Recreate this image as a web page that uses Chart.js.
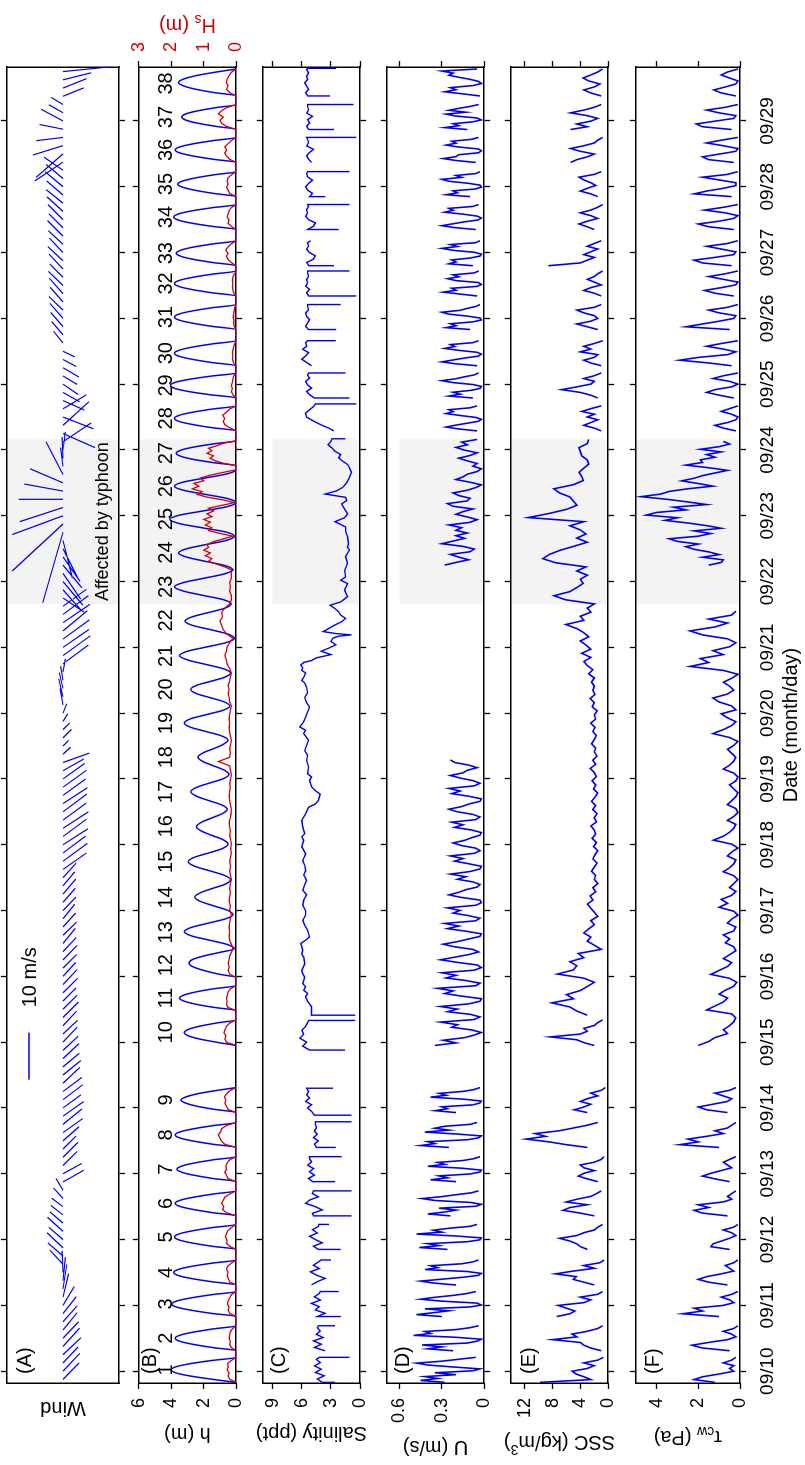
<!DOCTYPE html>
<html>
<head>
<meta charset="utf-8">
<title>Tidal flat observations 09/10 - 09/29</title>
<script src="https://cdn.jsdelivr.net/npm/chart.js@4.4.1/dist/chart.umd.min.js"></script>
<style>
  html, body { margin: 0; padding: 0; background: #fff; overflow: hidden; }
  /* figure is laid out landscape and turned a quarter turn to the left */
  #figure {
    position: absolute; left: 0; top: 0;
    width: 1465px; height: 805px;
    transform-origin: 0 0;
    transform: translate(0, 1465px) rotate(-90deg);
  }
  #figure canvas { position: absolute; left: 0; }
</style>
</head>
<body>
<div id="figure">
  <canvas id="cWind" width="1465" height="136" style="top:-5px"></canvas>
  <canvas id="cDepth" width="1465" height="137" style="top:119px"></canvas>
  <canvas id="cSal" width="1465" height="137" style="top:243px"></canvas>
  <canvas id="cSpeed" width="1465" height="137" style="top:367px"></canvas>
  <canvas id="cSsc" width="1465" height="137" style="top:491px"></canvas>
  <canvas id="cStress" width="1465" height="189" style="top:616px"></canvas>
</div>
<script>
// time is in days after 09/10 00:00
const T_MIN = -0.18, T_MAX = 19.82;
const dayTicks = [0, 1, 2, 3, 4, 5, 6, 7, 8, 9, 10, 11, 12, 13, 14, 15, 16, 17, 18, 19];
const dateLabels = ["09/10", "09/11", "09/12", "09/13", "09/14", "09/15", "09/16", "09/17", "09/18", "09/19",
  "09/20", "09/21", "09/22", "09/23", "09/24", "09/25", "09/26", "09/27", "09/28", "09/29"];
const typhoonSpan = [11.66, 14.16];

// tides 1..38: wet window and time of high water
const tideStart = [-0.17, 0.31, 0.83, 1.31, 1.85, 2.36, 2.88, 3.40, 3.93, 4.95, 5.48, 5.98, 6.42, 6.94, 7.47, 8.01, 8.54, 9.07, 9.59,
  10.11, 10.61, 11.14, 11.66, 12.18, 12.69, 13.20, 13.76, 14.29, 14.79, 15.28, 15.83, 16.34, 16.80, 17.35, 17.85, 18.37, 18.87, 19.38];
const tideEnd = [0.21, 0.69, 1.21, 1.69, 2.23, 2.74, 3.26, 3.78, 4.31, 5.34, 5.86, 6.42, 6.94, 7.47, 8.01, 8.54, 9.07, 9.59, 10.11,
  10.61, 11.14, 11.66, 12.18, 12.69, 13.20, 13.70, 14.14, 14.67, 15.17, 15.66, 16.21, 16.72, 17.18, 17.73, 18.23, 18.75, 19.25, 19.79];
const tidePeak = [0.02, 0.50, 1.02, 1.50, 2.04, 2.55, 3.07, 3.59, 4.12, 5.15, 5.67, 6.17, 6.67, 7.20, 7.74, 8.28, 8.80, 9.33, 9.85,
  10.36, 10.87, 11.41, 11.92, 12.44, 12.95, 13.45, 13.95, 14.48, 14.98, 15.47, 16.02, 16.53, 16.99, 17.54, 18.04, 18.56, 19.06, 19.57];

// water depth h (m), evenly spaced over each tide window
const depthByTide = [
  [0, 1.5, 2.8, 3.7, 4.0, 3.7, 2.8, 1.5, 0],
  [0, 1.4, 2.6, 3.45, 3.75, 3.45, 2.6, 1.4, 0],
  [0, 1.5, 2.75, 3.65, 3.95, 3.65, 2.75, 1.5, 0],
  [0, 1.45, 2.7, 3.55, 3.85, 3.55, 2.7, 1.45, 0],
  [0, 1.45, 2.65, 3.5, 3.8, 3.5, 2.65, 1.45, 0],
  [0, 1.4, 2.6, 3.45, 3.75, 3.45, 2.6, 1.4, 0],
  [0, 1.4, 2.55, 3.35, 3.65, 3.35, 2.55, 1.4, 0],
  [0, 1.4, 2.6, 3.45, 3.75, 3.45, 2.6, 1.4, 0],
  [0, 1.3, 2.4, 3.1, 3.4, 3.1, 2.4, 1.3, 0],
  [0, 1.2, 2.25, 2.95, 3.2, 2.95, 2.25, 1.2, 0],
  [0, 1.35, 2.45, 3.2, 3.5, 3.2, 2.45, 1.35, 0],
  [0, 1.1, 2.0, 2.65, 2.9, 2.7, 2.0, 1.0, 0.1],
  [0.1, 0.55, 1.65, 2.75, 3.2, 2.75, 1.7, 0.65, 0.2],
  [0.2, 0.55, 1.4, 2.2, 2.55, 2.2, 1.45, 0.65, 0.35],
  [0.35, 0.75, 1.65, 2.55, 2.95, 2.6, 1.7, 0.85, 0.5],
  [0.5, 0.8, 1.5, 2.15, 2.45, 2.15, 1.5, 0.85, 0.55],
  [0.55, 0.9, 1.7, 2.45, 2.8, 2.45, 1.65, 0.8, 0.45],
  [0.45, 0.75, 1.4, 2.05, 2.35, 2.05, 1.4, 0.8, 0.5],
  [0.5, 0.9, 1.85, 2.8, 3.2, 2.8, 1.8, 0.8, 0.4],
  [0.4, 0.75, 1.6, 2.45, 2.8, 2.45, 1.55, 0.7, 0.35],
  [0.35, 0.8, 1.9, 3.0, 3.5, 3.0, 1.8, 0.6, 0.1],
  [0.1, 0.55, 1.6, 2.7, 3.15, 2.7, 1.7, 0.7, 0.3],
  [0.3, 0.8, 2.05, 3.25, 3.8, 3.25, 2.0, 0.75, 0.2],
  [0.2, 0.7, 1.9, 3.05, 3.55, 3.05, 1.85, 0.6, 0.1],
  [0.1, 0.65, 2.1, 3.5, 4.1, 3.5, 2.05, 0.6, 0],
  [0, 0.55, 1.9, 3.25, 3.8, 3.25, 1.9, 0.55, 0],
  [0, 1.4, 2.6, 3.4, 3.7, 3.4, 2.6, 1.4, 0],
  [0, 1.45, 2.65, 3.5, 3.8, 3.5, 2.65, 1.45, 0],
  [0, 1.55, 2.85, 3.75, 4.05, 3.75, 2.85, 1.55, 0],
  [0, 1.45, 2.65, 3.5, 3.8, 3.5, 2.65, 1.45, 0],
  [0, 1.45, 2.65, 3.5, 3.8, 3.5, 2.65, 1.45, 0],
  [0, 1.45, 2.65, 3.5, 3.8, 3.5, 2.65, 1.45, 0],
  [0, 1.4, 2.6, 3.4, 3.7, 3.4, 2.6, 1.4, 0],
  [0, 1.45, 2.7, 3.55, 3.85, 3.55, 2.7, 1.45, 0],
  [0, 1.35, 2.5, 3.3, 3.6, 3.3, 2.5, 1.35, 0],
  [0, 1.4, 2.6, 3.45, 3.75, 3.45, 2.6, 1.4, 0],
  [0, 1.25, 2.35, 3.1, 3.35, 3.1, 2.35, 1.25, 0],
  [0, 1.35, 2.5, 3.25, 3.55, 3.25, 2.5, 1.35, 0]
];

// significant wave height Hs (m)
const waveByTide = [
  [0, 0.2, 0.25, 0.22, 0.28, 0.24, 0.27, 0.15, 0],
  [0, 0.15, 0.2, 0.18, 0.22, 0.2, 0.18, 0.12, 0],
  [0, 0.2, 0.25, 0.22, 0.27, 0.25, 0.2, 0.15, 0],
  [0, 0.2, 0.24, 0.28, 0.25, 0.3, 0.26, 0.15, 0],
  [0, 0.2, 0.3, 0.28, 0.33, 0.3, 0.26, 0.15, 0],
  [0, 0.3, 0.42, 0.38, 0.45, 0.4, 0.35, 0.2, 0],
  [0, 0.25, 0.3, 0.35, 0.3, 0.32, 0.28, 0.2, 0],
  [0, 0.35, 0.45, 0.5, 0.55, 0.48, 0.45, 0.3, 0],
  [0, 0.25, 0.3, 0.35, 0.32, 0.36, 0.3, 0.2, 0],
  [0, 0.3, 0.35, 0.32, 0.38, 0.34, 0.3, 0.2, 0],
  [0, 0.25, 0.3, 0.28, 0.3, 0.27, 0.25, 0.18, 0],
  [0, 0.2, 0.25, 0.22, 0.25, 0.22, 0.2, 0.15, 0.1],
  [0.1, 0.15, 0.2, 0.22, 0.2, 0.22, 0.2, 0.18, 0.15],
  [0.15, 0.2, 0.18, 0.22, 0.2, 0.18, 0.2, 0.18, 0.15],
  [0.15, 0.18, 0.2, 0.17, 0.2, 0.18, 0.15, 0.17, 0.15],
  [0.15, 0.17, 0.2, 0.18, 0.2, 0.22, 0.18, 0.16, 0.15],
  [0.15, 0.18, 0.2, 0.22, 0.2, 0.18, 0.2, 0.17, 0.15],
  [0.15, 0.18, 0.2, 0.55, 0.2, 0.18, 0.2, 0.17, 0.15],
  [0.15, 0.18, 0.2, 0.22, 0.2, 0.22, 0.2, 0.18, 0.15],
  [0.15, 0.2, 0.22, 0.25, 0.22, 0.25, 0.2, 0.18, 0.15],
  [0.15, 0.2, 0.28, 0.3, 0.35, 0.3, 0.28, 0.2, 0.1],
  [0.1, 0.3, 0.4, 0.45, 0.5, 0.42, 0.45, 0.35, 0.2],
  [0.2, 0.15, 0.15, 0.2, 0.18, 0.2, 0.15, 0.15, 0.15],
  [0.15, 0.35, 0.6, 0.85, 0.75, 0.95, 0.8, 1.0, 0.85, 0.9, 0.7, 0.4, 0.1],
  [0.1, 0.5, 0.85, 0.75, 0.95, 0.8, 1.0, 0.75, 0.9, 0.7, 0.85, 0.45, 0.05],
  [0.05, 0.4, 0.9, 1.2, 1.05, 1.35, 1.15, 1.3, 1.0, 1.1, 0.8, 0.4, 0],
  [0, 0.4, 0.65, 0.8, 0.7, 0.9, 0.75, 0.85, 0.6, 0.4, 0],
  [0, 0.2, 0.35, 0.4, 0.35, 0.42, 0.3, 0.2, 0],
  [0, 0.1, 0.15, 0.12, 0.15, 0.12, 0.1, 0.08, 0],
  [0, 0.08, 0.12, 0.1, 0.12, 0.1, 0.08, 0.05, 0],
  [0, 0.06, 0.08, 0.07, 0.09, 0.08, 0.06, 0.05, 0],
  [0, 0.08, 0.1, 0.12, 0.1, 0.12, 0.1, 0.06, 0],
  [0, 0.15, 0.25, 0.3, 0.25, 0.32, 0.25, 0.15, 0],
  [0, 0.15, 0.25, 0.22, 0.28, 0.25, 0.22, 0.15, 0],
  [0, 0.2, 0.25, 0.3, 0.25, 0.28, 0.25, 0.15, 0],
  [0, 0.2, 0.3, 0.35, 0.3, 0.35, 0.25, 0.15, 0],
  [0, 0.3, 0.45, 0.5, 0.4, 0.55, 0.45, 0.3, 0],
  [0, 0.2, 0.3, 0.25, 0.3, 0.28, 0.22, 0.15, 0]
];

// salinity (ppt) as [time, value] runs
const salinityRuns = [
  [[-0.17, 2.6], [-0.17, 3.9], [-0.12, 4.4], [-0.07, 3.7], [-0.02, 4.6], [0.03, 4.0], [0.08, 4.7], [0.13, 4.1], [0.18, 4.5], [0.21, 4.2], [0.21, 1.1]],
  [[0.31, 3.6], [0.36, 4.7], [0.41, 4.0], [0.46, 4.8], [0.51, 3.8], [0.56, 4.5], [0.61, 4.1], [0.66, 4.4], [0.69, 4.3], [0.69, 2.6]],
  [[0.83, 2.0], [0.83, 4.4], [0.88, 3.6], [0.93, 4.6], [0.98, 4.2], [1.03, 5.0], [1.08, 4.1], [1.13, 4.7], [1.18, 4.2], [1.21, 4.1], [1.21, 2.2]],
  [[1.31, 5.0], [1.36, 4.4], [1.41, 3.6], [1.46, 4.5], [1.51, 5.1], [1.56, 4.2], [1.61, 4.8], [1.66, 4.3], [1.69, 4.0], [1.69, 3.0]],
  [[1.85, 2.0], [1.85, 4.3], [1.90, 4.8], [1.95, 3.9], [2.00, 4.6], [2.05, 5.2], [2.10, 4.4], [2.15, 4.9], [2.20, 4.3], [2.23, 4.25], [2.23, 3.2]],
  [[2.36, 0.9], [2.36, 4.8], [2.40, 4.9], [2.45, 3.9], [2.50, 4.6], [2.55, 5.6], [2.60, 5.2], [2.65, 4.3], [2.70, 4.9], [2.74, 4.8], [2.74, 0.9]],
  [[2.88, 2.6], [2.88, 4.9], [2.93, 5.3], [2.98, 4.7], [3.03, 5.2], [3.08, 4.8], [3.13, 5.4], [3.18, 5.0], [3.23, 5.2], [3.26, 5.2], [3.26, 1.9]],
  [[3.40, 2.5], [3.40, 4.5], [3.45, 4.7], [3.50, 4.3], [3.55, 4.8], [3.60, 4.4], [3.65, 4.7], [3.70, 4.5], [3.75, 4.6], [3.79, 4.6], [3.79, 0.9]],
  [[3.89, 0.9], [3.89, 4.7], [3.95, 5.0], [4.00, 5.4], [4.05, 5.0], [4.10, 5.6], [4.15, 5.2], [4.20, 5.5], [4.25, 5.3], [4.30, 5.5], [4.30, 2.8]],
  [[4.88, 1.55], [4.88, 5.2], [4.94, 5.9], [5.00, 5.5], [5.06, 6.2], [5.12, 5.8], [5.18, 6.0], [5.24, 5.6], [5.30, 5.4], [5.33, 5.3], [5.33, 0.5]],
  [[5.41, 0.5], [5.41, 5.0], [5.54, 5.0], [5.62, 5.4], [5.69, 5.6], [5.74, 5.4], [5.79, 5.8], [5.84, 5.6], [5.89, 5.9], [5.99, 5.7], [6.04, 5.9], [6.09, 6.0], [6.19, 5.7],
   [6.29, 5.8], [6.34, 6.0], [6.40, 5.9], [6.50, 6.1], [6.55, 5.6], [6.60, 5.2], [6.70, 5.4], [6.78, 5.7], [6.85, 5.9], [6.93, 5.6], [7.00, 5.6],
   [7.08, 5.9], [7.16, 5.8], [7.24, 5.5], [7.31, 5.9], [7.39, 5.7], [7.46, 5.5], [7.54, 5.8], [7.61, 5.6], [7.69, 5.7], [7.76, 5.9],
   [7.86, 5.6], [7.97, 6.0], [8.07, 5.8], [8.12, 6.0], [8.17, 5.7], [8.27, 5.9], [8.37, 6.0], [8.47, 5.6], [8.57, 5.3], [8.62, 4.6], [8.67, 4.3],
   [8.72, 4.2], [8.77, 4.1], [8.82, 4.6], [8.88, 5.0], [8.98, 5.2], [9.03, 5.0], [9.08, 5.4], [9.18, 5.3], [9.28, 5.5], [9.36, 5.4], [9.43, 5.7],
   [9.51, 5.5], [9.59, 5.3], [9.69, 5.8], [9.74, 5.6], [9.79, 6.2], [9.87, 5.8], [9.94, 5.6], [10.02, 5.4], [10.09, 5.2], [10.16, 5.5], [10.24, 5.7],
   [10.31, 5.4], [10.39, 5.5], [10.46, 5.7], [10.50, 6.0], [10.54, 5.8], [10.61, 5.6], [10.65, 6.0], [10.69, 5.9], [10.73, 6.1], [10.77, 5.8], [10.80, 5.0], [10.84, 4.5], [10.89, 3.0],
   [10.94, 4.0], [10.99, 3.2], [11.04, 2.5], [11.09, 3.0], [11.14, 2.8], [11.17, 2.2], [11.19, 0.9], [11.21, 2.5], [11.24, 3.8], [11.29, 3.2],
   [11.34, 2.6], [11.39, 1.9], [11.44, 1.5], [11.49, 2.0], [11.54, 2.2], [11.59, 2.6], [11.64, 3.1], [11.69, 2.0], [11.77, 1.3], [11.87, 1.6],
   [11.97, 1.3], [12.02, 2.0], [12.07, 1.5], [12.17, 1.6], [12.28, 1.3], [12.38, 1.5], [12.48, 1.1], [12.52, 1.3], [12.58, 1.2], [12.68, 1.3],
   [12.76, 1.5], [12.83, 1.5], [12.91, 2.6], [12.97, 1.6], [13.03, 1.3], [13.10, 1.6], [13.18, 1.9], [13.23, 1.4], [13.28, 1.5], [13.33, 3.6],
   [13.38, 2.4], [13.43, 1.8], [13.50, 1.4], [13.58, 1.1], [13.66, 0.9], [13.73, 1.1], [13.78, 1.3], [13.83, 1.8], [13.88, 2.2], [13.93, 2.0],
   [13.98, 2.6], [14.03, 2.9], [14.08, 3.3], [14.13, 3.0], [14.17, 2.9], [14.17, 1.5]],
  [[14.29, 2.7], [14.33, 3.2], [14.38, 4.0], [14.44, 4.8], [14.50, 5.5], [14.56, 5.6], [14.61, 5.2], [14.66, 4.8], [14.70, 4.6], [14.70, 0.4]],
  [[14.79, 1.1], [14.79, 4.7], [14.84, 5.2], [14.89, 5.5], [14.94, 5.0], [14.99, 5.4], [15.04, 5.6], [15.09, 5.2], [15.14, 5.4], [15.17, 5.3], [15.17, 1.5]],
  [[15.28, 5.0], [15.33, 5.5], [15.38, 6.0], [15.43, 5.6], [15.48, 5.3], [15.53, 5.9], [15.58, 5.5], [15.63, 5.6], [15.66, 5.4], [15.66, 2.5]],
  [[15.83, 2.45], [15.83, 5.3], [15.88, 5.6], [15.93, 5.4], [15.98, 5.2], [16.03, 5.5], [16.08, 5.6], [16.13, 5.3], [16.18, 5.4], [16.21, 5.4], [16.21, 2.0]],
  [[16.34, 0.4], [16.34, 5.3], [16.39, 5.5], [16.44, 5.2], [16.49, 5.6], [16.54, 5.4], [16.59, 5.5], [16.64, 5.3], [16.69, 5.4], [16.72, 5.4], [16.72, 1.1]],
  [[16.80, 2.7], [16.80, 5.3], [16.85, 5.5], [16.90, 4.8], [16.95, 4.6], [17.00, 5.2], [17.05, 5.5], [17.10, 5.3], [17.15, 5.4], [17.18, 5.1]],
  [[17.35, 2.2], [17.35, 5.4], [17.40, 4.8], [17.45, 4.6], [17.50, 5.3], [17.55, 5.6], [17.60, 5.4], [17.65, 5.5], [17.70, 5.3], [17.73, 5.4], [17.73, 1.1]],
  [[17.85, 3.6], [17.85, 5.2], [17.90, 4.9], [17.95, 5.4], [18.00, 5.6], [18.05, 5.3], [18.10, 4.9], [18.15, 5.4], [18.20, 5.5], [18.23, 5.4], [18.23, 1.1]],
  [[18.37, 5.0], [18.42, 5.3], [18.47, 5.5], [18.52, 5.2], [18.57, 4.8], [18.62, 5.5], [18.67, 5.3], [18.72, 5.4], [18.75, 5.5], [18.75, 0.4]],
  [[18.87, 2.7], [18.87, 5.3], [18.92, 5.5], [18.97, 5.2], [19.02, 5.4], [19.07, 4.9], [19.12, 5.5], [19.17, 5.3], [19.22, 5.4], [19.25, 5.4], [19.25, 0.7]],
  [[19.38, 3.1], [19.38, 5.4], [19.43, 5.6], [19.48, 5.3], [19.53, 5.5], [19.58, 5.7], [19.63, 5.4], [19.68, 5.5], [19.73, 5.3], [19.78, 5.5], [19.80, 5.4], [19.80, 2.45]]
];

// depth-averaged velocity U (m/s)
const speedByTide = [
  [0.28, 0.45, 0.33, 0.42, 0.2, 0.35, 0.08, 0.03, 0.22, 0.4, 0.48, 0.3, 0.18, 0.06],
  [0.22, 0.4, 0.3, 0.44, 0.12, 0.05, 0.02, 0.2, 0.5, 0.38, 0.42, 0.2, 0.1, 0.04],
  [0.3, 0.48, 0.36, 0.25, 0.42, 0.1, 0.02, 0.05, 0.3, 0.45, 0.35, 0.22, 0.12, 0.06],
  [0.2, 0.36, 0.45, 0.3, 0.15, 0.04, 0.02, 0.12, 0.42, 0.33, 0.38, 0.16, 0.08, 0.04],
  [0.26, 0.46, 0.32, 0.4, 0.12, 0.03, 0.02, 0.2, 0.48, 0.3, 0.36, 0.25, 0.1, 0.05],
  [0.24, 0.4, 0.28, 0.2, 0.32, 0.06, 0.02, 0.1, 0.35, 0.44, 0.3, 0.2, 0.09, 0.04],
  [0.2, 0.38, 0.26, 0.32, 0.1, 0.03, 0.02, 0.16, 0.4, 0.28, 0.33, 0.15, 0.07, 0.03],
  [0.25, 0.45, 0.35, 0.4, 0.12, 0.04, 0.02, 0.2, 0.42, 0.25, 0.35, 0.28, 0.1, 0.05],
  [0.2, 0.35, 0.26, 0.3, 0.08, 0.03, 0.02, 0.15, 0.38, 0.27, 0.32, 0.15, 0.07, 0.03],
  null, null, null, null, null, null, null, null, null, null, null, null, null, null, null, null, null, null,
  [0.05, 0.18, 0.27, 0.2, 0.12, 0.04, 0.02, 0.06, 0.17, 0.27, 0.22, 0.25, 0.1, 0.05],
  [0.08, 0.25, 0.17, 0.22, 0.09, 0.03, 0.02, 0.08, 0.22, 0.3, 0.2, 0.14, 0.07, 0.04],
  [0.05, 0.2, 0.3, 0.22, 0.14, 0.04, 0.02, 0.05, 0.18, 0.28, 0.21, 0.24, 0.08, 0.04],
  [0.1, 0.27, 0.2, 0.24, 0.08, 0.02, 0.03, 0.12, 0.25, 0.3, 0.17, 0.12, 0.06, 0.03],
  [0.05, 0.17, 0.29, 0.2, 0.23, 0.05, 0.02, 0.04, 0.2, 0.26, 0.18, 0.22, 0.07, 0.04],
  [0.08, 0.25, 0.2, 0.23, 0.1, 0.03, 0.02, 0.07, 0.22, 0.3, 0.19, 0.24, 0.06, 0.03],
  [0.06, 0.21, 0.3, 0.22, 0.14, 0.04, 0.02, 0.05, 0.15, 0.28, 0.22, 0.25, 0.08, 0.04],
  [0.1, 0.27, 0.19, 0.22, 0.06, 0.02, 0.03, 0.12, 0.25, 0.3, 0.16, 0.2, 0.06, 0.03],
  [0.06, 0.2, 0.29, 0.2, 0.18, 0.04, 0.02, 0.04, 0.18, 0.27, 0.2, 0.23, 0.09, 0.04],
  [0.12, 0.28, 0.18, 0.22, 0.08, 0.02, 0.05, 0.2, 0.27, 0.13, 0.25, 0.18, 0.1, 0.04],
  [0.03, 0.15, 0.28, 0.2, 0.24, 0.08, 0.02, 0.04, 0.1, 0.18, 0.25, 0.22, 0.3, 0.05]
];
const speedRuns = [
  [4.95, 9.29, [0.35, 0.2, 0.29, 0.14, 0.07, 0.02, 0.09, 0.23, 0.19, 0.31, 0.07, 0.03,
    0.1, 0.26, 0.19, 0.31, 0.11, 0.03, 0.02, 0.16, 0.28, 0.22, 0.33, 0.06,
    0.03, 0.13, 0.27, 0.2, 0.3, 0.07, 0.02, 0.05, 0.19, 0.31, 0.21, 0.11, 0.04,
    0.08, 0.21, 0.29, 0.19, 0.11, 0.03, 0.02, 0.13, 0.26, 0.18, 0.28, 0.06,
    0.03, 0.11, 0.22, 0.17, 0.26, 0.06, 0.02, 0.03, 0.16, 0.25, 0.18, 0.13, 0.05, 0.03,
    0.08, 0.19, 0.13, 0.24, 0.1, 0.03, 0.02, 0.11, 0.21, 0.15, 0.24, 0.07, 0.03,
    0.06, 0.16, 0.22, 0.14, 0.09, 0.03, 0.02, 0.09, 0.21, 0.15, 0.23, 0.06, 0.03,
    0.08, 0.19, 0.25, 0.16, 0.11, 0.03, 0.02, 0.11, 0.23, 0.17, 0.25, 0.07, 0.03,
    0.08, 0.17, 0.24, 0.15, 0.12, 0.05, 0.11, 0.21, 0.24]],
  [12.25, 14.16, [0.28, 0.2, 0.11, 0.18, 0.24, 0.1, 0.07, 0.15, 0.3, 0.22, 0.14, 0.2, 0.12, 0.2, 0.16, 0.25,
    0.1, 0.05, 0.12, 0.2, 0.15, 0.08, 0.22, 0.26, 0.12, 0.1, 0.18, 0.22, 0.12, 0.06, 0.02, 0.1,
    0.2, 0.15, 0.12, 0.05, 0.02, 0.08, 0.05, 0.12, 0.18, 0.1, 0.05, 0.14, 0.2, 0.12, 0.16, 0.05]]
];

// suspended sediment concentration (kg/m3)
const sscByTide = [
  [9.8, 2.5, 3.5, 4.6, 5.2, 3.0, 2.0, 3.5, 1.5, 0.7],
  [1.0, 2.5, 3.5, 4.0, 8.0, 4.5, 5.2, 3.0, 1.5, 0.8],
  [7.4, 5.5, 4.8, 6.0, 7.2, 3.5, 2.5, 4.0, 1.5, 0.8],
  [2.0, 3.5, 5.0, 4.6, 7.6, 5.0, 2.0, 3.5, 1.2, 0.6],
  [3.0, 4.0, 4.5, 5.5, 7.0, 4.5, 3.5, 2.0, 1.5, 0.8],
  [2.0, 4.0, 6.5, 5.5, 3.0, 6.0, 4.5, 2.5, 1.7, 1.0],
  [1.5, 3.0, 4.3, 3.5, 2.0, 3.5, 4.0, 2.0, 1.0, 0.6],
  [3.0, 6.0, 8.5, 11.8, 9.0, 10.5, 7.0, 5.0, 3.0, 1.5],
  [3.0, 4.9, 3.5, 2.5, 4.0, 3.0, 1.5, 2.5, 1.0, 0.4],
  [2.0, 3.5, 4.5, 8.3, 4.0, 3.0, 3.5, 2.0, 1.5, 0.8],
  null, null, null, null, null, null, null, null, null, null, null, null, null, null, null, null, null,
  [1.0, 2.0, 3.5, 2.5, 1.5, 3.0, 2.0, 3.8, 2.5, 1.0],
  [1.5, 2.5, 4.0, 6.7, 4.5, 2.5, 2.0, 3.5, 2.0, 1.0],
  [1.0, 2.5, 3.5, 2.0, 1.5, 4.0, 2.5, 3.5, 2.0, 0.8],
  [1.5, 3.0, 4.5, 2.5, 1.5, 2.0, 3.5, 4.5, 2.0, 1.0],
  [1.0, 2.0, 3.5, 2.5, 1.0, 2.0, 3.0, 2.0, 1.5, 0.8],
  [8.6, 4.0, 3.0, 2.0, 3.5, 2.5, 1.5, 3.0, 2.0, 1.0],
  [2.0, 3.0, 4.2, 3.0, 1.5, 2.5, 4.0, 2.5, 1.5, 0.8],
  [1.5, 2.5, 4.0, 3.0, 1.8, 2.5, 3.5, 4.2, 2.0, 1.0],
  [5.4, 4.5, 3.0, 2.0, 4.0, 5.4, 3.5, 2.0, 1.5, 0.8],
  [5.4, 3.0, 4.5, 2.5, 1.5, 3.0, 5.4, 3.5, 2.0, 1.0],
  [1.0, 2.5, 3.5, 2.0, 1.2, 2.8, 3.6, 2.5, 1.5, 0.8]
];
const sscRuns = [
  [5.41, 14.16, [3.0, 4.5, 5.5, 8.1, 5.0, 6.0, 4.0, 3.0, 2.0,
    3.5, 7.3, 5.0, 4.5, 5.5, 3.5, 4.3, 1.0,
    2.0, 3.0, 2.5, 3.5, 2.8, 2.0, 2.5, 1.5,
    2.0, 2.5, 3.0, 2.2, 2.6, 1.8, 2.2, 1.5,
    2.0, 1.8, 2.4, 2.0, 1.6, 2.2, 1.9, 1.5,
    2.1, 1.7, 2.3, 1.8, 2.0, 2.5, 1.7, 2.0,
    1.6, 2.2, 1.8, 2.4, 1.9, 1.5, 2.1, 1.8,
    2.3, 1.7, 2.0, 2.6, 1.8, 2.2, 1.6, 2.0,
    1.8, 2.4, 2.0, 1.7, 2.2, 1.9, 2.5, 1.8,
    2.0, 1.6, 2.3, 2.0, 2.6, 1.9, 2.2, 2.0,
    2.4, 2.0, 2.8, 2.2, 3.0, 3.5, 2.5, 3.8,
    2.5, 3.2, 4.0, 2.8, 3.5, 4.5, 6.1, 3.5,
    4.0, 2.5, 3.0, 2.0, 6.1, 7.8, 5.5, 4.5,
    3.6, 4.0, 3.0, 4.5, 3.2, 7.5, 9.4, 8.5,
    7.0, 5.0, 3.0, 4.5, 3.2, 4.0, 5.5, 3.5,
    11.5, 8.5, 6.0, 4.5, 5.0, 5.5, 7.0, 7.8,
    5.0, 3.6, 3.8, 4.2, 3.5, 2.8, 3.0, 3.8,
    4.0, 4.2, 3.0, 2.8]]
];

// bed shear stress tau_cw (Pa)
const stressByTide = [
  [1.2, 2.2, 1.8, 1.0, 0.3, 0.5, 0.3, 0.8, 0.4, 0.2],
  [0.5, 1.8, 2.3, 1.5, 0.6, 0.2, 0.4, 0.8, 0.3, 0.1],
  [1.0, 2.75, 1.8, 2.2, 0.8, 0.3, 0.5, 0.9, 0.4, 0.1],
  [0.6, 1.5, 2.0, 1.6, 0.9, 0.3, 0.5, 0.7, 0.3, 0.1],
  [0.5, 1.4, 1.3, 0.9, 0.5, 0.2, 0.4, 0.8, 0.3, 0.1],
  [0.6, 1.8, 2.2, 1.5, 2.0, 0.8, 0.4, 0.6, 0.4, 0.2],
  [0.5, 1.2, 1.8, 1.4, 0.9, 0.4, 0.6, 0.8, 0.5, 0.2],
  [1.0, 2.9, 2.0, 2.5, 1.6, 0.8, 1.2, 0.6, 0.4, 0.2],
  [0.6, 1.6, 2.0, 1.3, 0.6, 0.4, 0.8, 1.2, 0.5, 0.2],
  null, null, null, null, null, null, null, null, null, null, null, null, null, null, null, null, null, null,
  [0.2, 0.8, 1.2, 0.6, 0.2, 0.1, 0.4, 0.9, 0.5, 0.1],
  [0.3, 1.0, 1.6, 1.2, 0.4, 0.1, 0.5, 1.3, 0.8, 0.1],
  [0.4, 1.5, 2.9, 2.0, 0.6, 0.2, 0.8, 1.6, 0.9, 0.1],
  [0.5, 2.6, 1.8, 1.0, 0.3, 0.2, 1.0, 1.5, 0.6, 0.1],
  [0.3, 1.2, 1.7, 0.9, 0.2, 0.1, 0.8, 1.5, 0.7, 0.1],
  [0.4, 1.8, 2.2, 1.2, 0.3, 0.2, 0.9, 1.6, 0.6, 0.1],
  [0.3, 1.5, 2.0, 1.0, 0.3, 0.1, 0.7, 1.7, 0.8, 0.1],
  [0.4, 2.2, 1.6, 0.8, 0.2, 0.2, 1.0, 1.8, 0.6, 0.1],
  [0.3, 1.5, 1.8, 1.0, 0.2, 0.1, 0.8, 1.6, 0.9, 0.1],
  [0.4, 1.8, 2.1, 1.2, 0.3, 0.2, 1.0, 1.6, 0.7, 0.1],
  [0.2, 0.9, 1.26, 0.7, 0.2, 0.1, 0.5, 0.9, 0.6, 0.1]
];
const stressRuns = [
  [4.95, 11.55, [2.0, 1.5, 1.2, 0.6, 0.8, 0.5, 0.3, 0.2,
    0.4, 1.6, 1.2, 0.8, 0.6, 1.0, 0.7, 0.3, 0.15,
    0.5, 1.4, 1.0, 0.6, 0.4, 0.8, 0.5, 0.2,
    0.3, 0.7, 0.5, 0.8, 0.3, 0.2, 0.6, 0.4, 0.1,
    0.3, 1.0, 0.6, 0.9, 0.4, 0.2, 0.5, 0.3, 0.1,
    0.3, 0.8, 0.5, 0.3, 0.2, 0.6, 0.4, 0.1,
    0.4, 1.27, 0.8, 0.5, 0.3, 0.2, 0.6, 0.3, 0.1,
    0.2, 0.6, 0.4, 0.2, 0.1, 0.3, 0.5, 0.2, 0.1,
    0.3, 0.8, 0.5, 0.3, 0.2, 0.4, 0.6, 0.3, 0.1,
    0.5, 1.3, 0.8, 0.4, 0.2, 0.6, 0.9, 0.2,
    0.4, 1.0, 1.3, 0.6, 0.3, 0.5, 0.8, 0.4, 0.1,
    0.8, 2.4, 1.5, 1.9, 0.8, 1.3, 0.5, 0.2,
    0.6, 1.8, 2.4, 1.2, 0.6, 1.5, 0.4, 0.2]],
  [12.25, 14.13, [1.5, 0.9, 0.8, 1.8, 1.0, 1.5, 2.2, 2.6, 2.0, 3.0, 3.4, 2.0, 1.4, 2.2, 0.9, 1.6,
    2.5, 3.6, 3.0, 4.5, 4.0, 2.6, 3.2, 1.6, 2.5, 3.5, 4.75, 3.8, 3.4, 2.5, 1.3, 2.0,
    2.8, 2.2, 1.8, 1.2, 0.6, 1.5, 2.6, 1.8, 1.9, 1.2, 1.6, 0.9, 1.9, 1.0, 0.5, 0.8]]
];

// wind every 3 h from 09/09 21:00, eastward u and northward v (m/s)
const WIND_T0 = -0.125, WIND_STEP = 0.125;
const windU = [3.5, 3.8, 3.4, 3.6, 3.9, 3.5, 3.7, 3.4, 3.6, 4.0,
  5.0, 5.2, 5.0, 4.6, 3.0, 2.8, 3.2, 2.6, 3.0, 2.4,
  2.0, 1.8, 2.2, 2.5, 2.5, 2.2, 3.0, 3.2, 2.8, 3.0,
  3.0, 3.3, 3.1, 2.8, 3.2, 3.0, 3.4, 3.1, 2.9, 3.2,
  3.0, 3.2, 2.9, 3.1, 3.3, 3.0, 2.8, 3.1, 3.2, 3.0, 2.9, 3.1, 3.0, 3.2, 2.8, 3.0, 3.1, 2.9, 3.0, 3.2, 3.0, 3.1,
  3.5, 3.8, 3.6, 3.4, 3.7, 3.5, 3.6, 3.8, 3.4, 3.5, 3.6, 3.3,
  2.5, 2.0, 1.5, 1.2, 1.8, 1.4, 1.6, 2.0,
  3.5, 3.8, 3.4, 3.0, 2.8,
  4.0, 4.2, 3.8, 4.1, 4.3, 3.9, 4.0, 3.6,
  -3.0, -4.5, -5.0, -5.5, -4.8, -5.2, -6.0, -8.0,
  -15.0, -10.0, -4.0, -3.0, 0, 1.5, 3.0, 7.0,
  4.0, 4.5, 3.8,
  4.0, -3.0, 5.0, -2.5, 3.0, -2.0,
  -2.0, -2.2, -1.8, -2.0, -1.5, -1.2,
  2.5, 2.8, 3.0, 3.2, 2.9, 3.1, 3.3, 3.0, 2.8, 3.2, 3.0, 3.1, 2.9, 3.3, 3.0, 3.2, 3.1, 2.9, 3.0, 3.2, 3.0, 2.8,
  -4.0, -5.0, -2.0, -0.7, 1.0, 2.5, 1.7, 1.5, 1.8, 2.0, 1.5, 1.0];
const windV = [-3.4, -3.6, -3.2, -3.8, -3.5, -3.3, -3.0, -3.0, -2.8, -2.4,
  -1.2, -0.8, -0.5, 0.2, 2.8, 3.2, 3.4, 3.0, 3.3, 2.8,
  2.6, 2.4, 2.0, 1.5, -4.4, -4.0, -3.0, -3.2, -2.8, -3.4,
  -4.2, -4.0, -4.4, -3.8, -4.2, -4.0, -3.6, -3.8, -3.5, -3.4,
  -3.2, -3.0, -3.1, -2.9, -3.3, -3.0, -2.8, -3.1, -3.0, -2.7, -2.9, -3.0, -2.8, -2.6, -2.9, -2.7, -2.5, -2.8, -2.6, -2.7, -2.5, -2.8,
  -5.0, -5.2, -4.8, -5.3, -5.0, -5.4, -4.9, -5.1, -5.2, -4.8, -5.0, -4.6,
  -4.4, -5.6, -1.6, -1.2, -1.8, -1.4, -1.0, -0.8,
  0.6, 0.9, 0.8, 0.5, -0.5,
  -5.4, -5.8, -5.5, -5.6, -5.2, -5.7, -5.4, -5.0,
  -4.5, -4.0, -4.2, -3.8, -4.0, -3.6, -3.0, -2.0,
  4.3, 10.8, 10.8, 9.2, 9.4, 8.2, 7.0, 3.6,
  0.5, 0.2, -0.5,
  -6.0, -6.8, -5.5, -6.5, -5.0, -4.5,
  -3.5, -3.2, -3.0, -3.4, -2.8, -2.5,
  2.0, 2.4, 2.6, 2.8, 3.0, 2.7, 2.9, 3.1, 2.8, 3.0, 3.2, 2.9, 3.1, 3.3, 3.0, 3.2, 3.4, 3.6, 3.5, 3.8, 3.6, 4.0,
  6.0, 5.7, 6.4, 5.7, 5.0, 4.7, 3.0, 2.5, -4.4, -5.0, -6.0, -9.8];

// ---------------------------------------------------------------
const FONT = '"Liberation Sans", Arial, Helvetica, sans-serif';
const BLUE = "#0000f0";
const RED = "#d40000";
Chart.defaults.font.family = FONT;
Chart.defaults.color = "#000";

// stick scale: 10 m/s is 47 px on both axes
const PLOT_W = 1316, PX_PER_MS = 4.7;
const DAY_PER_MS = PX_PER_MS * (T_MAX - T_MIN) / PLOT_W;
const WIND_HALF = 56 / PX_PER_MS;

function tideRuns(byTide) {
  const runs = [];
  byTide.forEach((vals, k) => {
    if (vals) runs.push([tideStart[k], tideEnd[k], vals]);
  });
  return runs;
}

// evenly spaced values inside each run; runs further apart than joinGap are broken
function buildSeries(runs, joinGap) {
  const pts = [];
  let lastT = null;
  runs.slice().sort((a, b) => a[0] - b[0]).forEach(([t0, t1, vals]) => {
    if (lastT !== null && t0 - lastT > joinGap) pts.push({ x: (lastT + t0) / 2, y: null });
    vals.forEach((v, i) => {
      const t = t0 + (t1 - t0) * i / (vals.length - 1);
      if (lastT !== null && Math.abs(t - lastT) < 1e-6) return;
      pts.push({ x: t, y: v });
      lastT = t;
    });
  });
  return pts;
}

function buildPairs(runs) {
  const pts = [];
  runs.forEach((run, r) => {
    if (r > 0) pts.push({ x: run[0][0], y: null });
    run.forEach(([t, v]) => pts.push({ x: t, y: v }));
  });
  return pts;
}

const windData = [];
windU.forEach((u, i) => {
  const t = WIND_T0 + i * WIND_STEP;
  windData.push({ x: t, y: 0 }, { x: t + u * DAY_PER_MS, y: windV[i] }, { x: t, y: null });
});

function lineSet(data, color, width, extra) {
  return Object.assign({
    data, borderColor: color, borderWidth: width, pointRadius: 0, fill: false,
    tension: 0, spanGaps: false, xAxisID: "x", yAxisID: "y"
  }, extra || {});
}

function timeAxis(position, size, withLabels) {
  const ax = {
    type: "linear", position, min: T_MIN, max: T_MAX,
    afterBuildTicks: s => { s.ticks = dayTicks.map(v => ({ value: v })); },
    afterFit: s => { s.height = size; },
    grid: { drawOnChartArea: false, drawTicks: true, tickLength: 6, tickColor: "#000", tickWidth: 1.3 },
    border: { display: true, color: "#000", width: 1.5 },
    ticks: { display: false }
  };
  if (withLabels) {
    ax.ticks = {
      display: true, padding: 10, color: "#000", font: { size: 19 }, maxRotation: 0, autoSkip: false,
      callback: v => dateLabels[dayTicks.indexOf(v)]
    };
    ax.title = { display: true, text: "Date (month/day)", color: "#000", font: { size: 20 }, padding: { top: 0, bottom: 2 } };
  }
  return ax;
}

function valueAxis(position, min, max, tickVals, labels, color) {
  return {
    type: "linear", position, min, max,
    afterBuildTicks: s => { s.ticks = tickVals.map(v => ({ value: v })); },
    afterFit: s => { s.width = position === "left" ? 82 : 67; },
    grid: { drawOnChartArea: false, drawTicks: true, tickLength: 6, tickColor: "#000", tickWidth: 1.3 },
    border: { display: true, color: "#000", width: 1.5 },
    ticks: labels
      ? { display: true, padding: 9, color, font: { size: 18 }, callback: v => String(v) }
      : { display: false }
  };
}

// text with sub/superscripts, optionally turned to read bottom-to-top
function drawRich(ctx, parts, x, y, size, color, turned) {
  ctx.save();
  ctx.translate(x, y);
  if (turned) ctx.rotate(-Math.PI / 2);
  const fontOf = p => `${p.sub || p.sup ? Math.round(size * 0.7) : size}px ${FONT}`;
  let total = 0;
  parts.forEach(p => { ctx.font = fontOf(p); total += ctx.measureText(p.t).width; });
  let cx = -total / 2;
  ctx.fillStyle = color;
  ctx.textAlign = "left";
  ctx.textBaseline = "middle";
  parts.forEach(p => {
    ctx.font = fontOf(p);
    const dy = p.sub ? size * 0.32 : p.sup ? -size * 0.32 : 0;
    ctx.fillText(p.t, cx, dy);
    cx += ctx.measureText(p.t).width;
  });
  ctx.restore();
}

const decor = {};
const decorPlugin = {
  id: "decor",
  beforeDraw(chart) {
    const d = decor[chart.canvas.id];
    const { ctx, chartArea: a, scales } = chart;
    const x0 = scales.x.getPixelForValue(typhoonSpan[0]);
    const x1 = scales.x.getPixelForValue(typhoonSpan[1]);
    const y0 = Math.max(scales.y.getPixelForValue(d.shadeTop), a.top);
    ctx.save();
    ctx.fillStyle = "#f3f3f3";
    ctx.fillRect(x0, y0, x1 - x0, a.bottom - y0);
    ctx.restore();
  },
  afterDraw(chart) {
    const d = decor[chart.canvas.id];
    const { ctx, chartArea: a, scales } = chart;
    ctx.save();
    ctx.font = `20px ${FONT}`;
    ctx.fillStyle = "#000";
    ctx.textAlign = "left";
    ctx.textBaseline = "middle";
    ctx.fillText(d.tag, a.left + 9, a.top + d.tagDy);
    drawRich(ctx, d.title, d.titleX, (a.top + a.bottom) / 2, 20, "#000", true);
    if (d.extra) d.extra(ctx, a, scales);
    ctx.restore();
  }
};

function makePanel(canvasId, p) {
  decor[canvasId] = p.decor;
  return new Chart(document.getElementById(canvasId), {
    type: "line",
    data: { datasets: p.datasets },
    options: {
      responsive: false, animation: false, events: [], devicePixelRatio: 1,
      layout: { padding: 0 },
      plugins: { legend: { display: false }, tooltip: { enabled: false } },
      scales: {
        x: timeAxis("bottom", p.last ? 65 : 12, !!p.last),
        xt: timeAxis("top", 12, false),
        y: valueAxis("left", p.min, p.max, p.ticks, true, "#000"),
        yr: p.right || valueAxis("right", p.min, p.max, p.ticks, false, "#000")
      }
    },
    plugins: [decorPlugin]
  });
}

// (A) wind sticks
makePanel("cWind", {
  min: -WIND_HALF, max: WIND_HALF, ticks: [],
  datasets: [lineSet(windData, BLUE, 1.2)],
  decor: {
    tag: "(A)", tagDy: 18, title: [{ t: "Wind" }], titleX: 57, shadeTop: WIND_HALF,
    extra(ctx, a, s) {
      const legendT = 4.43;
      ctx.strokeStyle = BLUE;
      ctx.lineWidth = 1.4;
      ctx.beginPath();
      ctx.moveTo(s.x.getPixelForValue(legendT), a.top + 22);
      ctx.lineTo(s.x.getPixelForValue(legendT + 10 * DAY_PER_MS), a.top + 22);
      ctx.stroke();
      ctx.font = `20px ${FONT}`;
      ctx.fillText("10 m/s", s.x.getPixelForValue(5.53), a.top + 23);
      ctx.font = `18px ${FONT}`;
      ctx.textAlign = "center";
      ctx.fillText("Affected by typhoon", s.x.getPixelForValue((typhoonSpan[0] + typhoonSpan[1]) / 2), a.top + 96);
    }
  }
});

// (B) water depth and wave height
makePanel("cDepth", {
  min: 0, max: 6, ticks: [0, 2, 4, 6],
  right: valueAxis("right", 0, 3, [0, 1, 2, 3], true, RED),
  datasets: [
    lineSet(buildSeries(tideRuns(waveByTide), 0.5), RED, 1.3, { yAxisID: "yr", order: 0 }),
    lineSet(buildSeries(tideRuns(depthByTide), 0.5), BLUE, 1.5, { cubicInterpolationMode: "monotone", order: 1 })
  ],
  decor: {
    tag: "(B)", tagDy: 12, title: [{ t: "h (m)" }], titleX: 31, shadeTop: 6,
    extra(ctx, a, s) {
      ctx.font = `20px ${FONT}`;
      ctx.textAlign = "center";
      tidePeak.forEach((t, k) => ctx.fillText(String(k + 1), s.x.getPixelForValue(t), a.top + 28));
      drawRich(ctx, [{ t: "H" }, { t: "s", sub: true }, { t: " (m)" }], a.right + 42, (a.top + a.bottom) / 2, 20, RED, true);
    }
  }
});

// (C) salinity
makePanel("cSal", {
  min: 0, max: 10, ticks: [0, 3, 6, 9],
  datasets: [lineSet(buildPairs(salinityRuns), BLUE, 1.4)],
  decor: { tag: "(C)", tagDy: 17, title: [{ t: "Salinity (ppt)" }], titleX: 32, shadeTop: 9 }
});

// (D) velocity
makePanel("cSpeed", {
  min: 0, max: 0.69, ticks: [0, 0.3, 0.6],
  datasets: [lineSet(buildSeries(tideRuns(speedByTide).concat(speedRuns), 0.001), BLUE, 1.6)],
  decor: { tag: "(D)", tagDy: 17, title: [{ t: "U (m/s)" }], titleX: 18, shadeTop: 0.6 }
});

// (E) SSC
makePanel("cSsc", {
  min: 0, max: 14, ticks: [0, 4, 8, 12],
  datasets: [lineSet(buildSeries(tideRuns(sscByTide).concat(sscRuns), 0.001), BLUE, 1.6)],
  decor: { tag: "(E)", tagDy: 19, title: [{ t: "SSC (kg/m" }, { t: "3", sup: true }, { t: ")" }], titleX: 23, shadeTop: 14 }
});

// (F) bed shear stress
makePanel("cStress", {
  last: true, min: 0, max: 5, ticks: [0, 2, 4],
  datasets: [lineSet(buildSeries(tideRuns(stressByTide).concat(stressRuns), 0.001), BLUE, 1.6)],
  decor: { tag: "(F)", tagDy: 18, title: [{ t: "\u03c4" }, { t: "cw", sub: true }, { t: " (Pa)" }], titleX: 28, shadeTop: 5 }
});
</script>
</body>
</html>
